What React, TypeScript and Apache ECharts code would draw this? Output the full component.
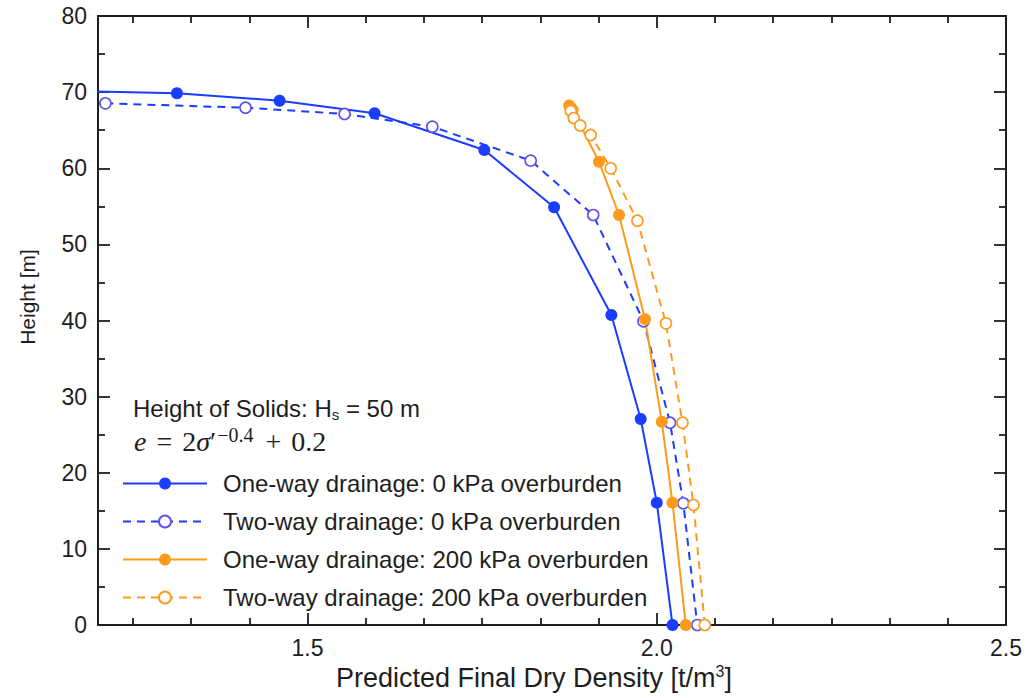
import React, { useEffect, useRef } from "react";
import * as echarts from "echarts";

// Predicted final dry density [t/m3] vs. height [m]
const oneWay0kPa: [number, number][] = [
  [1.1, 70.3], [1.313, 69.85], [1.46, 68.87], [1.596, 67.22], [1.753, 62.4],
  [1.853, 54.87], [1.935, 40.72], [1.977, 27.06], [2.0, 16.07], [2.0225, 0],
];
const twoWay0kPa: [number, number][] = [
  [1.2106, 68.53], [1.4112, 67.95], [1.553, 67.13], [1.6787, 65.46], [1.8195, 61.0],
  [1.909, 53.86], [1.981, 39.9], [2.019, 26.57], [2.038, 15.99], [2.058, 0],
];
const oneWay200kPa: [number, number][] = [
  [1.8745, 68.24], [1.8768, 67.98], [1.8797, 67.65], [1.9173, 60.86], [1.946, 53.86],
  [1.9832, 40.16], [2.0072, 26.7], [2.0225, 16.07], [2.0415, 0],
];
const twoWay200kPa: [number, number][] = [
  [1.8768, 67.52], [1.8811, 66.6], [1.8904, 65.62], [1.9054, 64.37], [1.9341, 59.99],
  [1.9723, 53.11], [2.0131, 39.63], [2.0368, 26.57], [2.0526, 15.76], [2.0688, 0],
];

const seriesNames = [
  "One-way drainage: 0 kPa overburden",
  "Two-way drainage: 0 kPa overburden",
  "One-way drainage: 200 kPa overburden",
  "Two-way drainage: 200 kPa overburden",
];

// Axis ranges and tick positions
const X_MIN = 1.2;
const X_MAX = 2.5;
const Y_MIN = 0;
const Y_MAX = 80;
const xMajorTicks = [1.5, 2.0, 2.5];
const xMinorTicks = [
  1.25, 1.3333, 1.4167, 1.5833, 1.6667, 1.75, 1.8333, 1.9167,
  2.0833, 2.1667, 2.25, 2.3333, 2.4167,
];

const MAJOR_LEN = 12;
const MINOR_LEN = 7;
const TICK_W = 1.8;

const BLUE = "#1a3dff";
const BLUE_OPEN = "#5e52e6";
const ORANGE = "#ff9b1c";
const INK = "#1e1e1e";
const SANS = "'Liberation Sans', Arial, Helvetica, sans-serif";
const SERIF = "'Liberation Serif', 'DejaVu Serif', serif";

function lineSeries(name: string, data: [number, number][], color: string, open: boolean, ring?: string) {
  return {
    name,
    type: "line",
    data,
    xAxisIndex: 0,
    yAxisIndex: 0,
    clip: true,
    symbol: "circle",
    symbolSize: open ? 11 : 12,
    lineStyle: { color, width: 2, type: open ? [8, 6] : "solid" },
    itemStyle: open
      ? { color: "#ffffff", borderColor: ring || color, borderWidth: 1.6 }
      : { color, borderColor: color, borderWidth: 0 },
    emphasis: { disabled: true },
    z: 3,
  };
}

// Horizontal axes: one carries the frame line and major ticks, an overlaid one the minor ticks
function xAxisDef(position: "top" | "bottom", ticks: number[], len: number, withLine: boolean, withLabels: boolean) {
  return {
    type: "value",
    position,
    min: X_MIN,
    max: X_MAX,
    axisLine: { show: withLine, onZero: false, lineStyle: { color: INK, width: 2 } },
    axisTick: { show: true, inside: true, length: len, customValues: ticks, lineStyle: { color: INK, width: TICK_W } },
    axisLabel: withLabels
      ? {
          show: true,
          customValues: ticks,
          formatter: (v: number) => v.toFixed(1),
          margin: 11,
          fontSize: 23,
          fontFamily: SANS,
          color: INK,
        }
      : { show: false },
    splitLine: { show: false },
  };
}

function yAxisDef(position: "left" | "right", withLabels: boolean) {
  return {
    type: "value",
    position,
    min: Y_MIN,
    max: Y_MAX,
    interval: 10,
    axisLine: { show: true, onZero: false, lineStyle: { color: INK, width: 2 } },
    axisTick: { show: true, inside: true, length: MAJOR_LEN, lineStyle: { color: INK, width: TICK_W } },
    minorTick: { show: true, splitNumber: 2, length: MINOR_LEN, lineStyle: { color: INK, width: TICK_W } },
    axisLabel: withLabels
      ? { show: true, margin: 11, fontSize: 23, fontFamily: SANS, color: INK }
      : { show: false },
    splitLine: { show: false },
    minorSplitLine: { show: false },
  };
}

const annotations = [
  {
    type: "text",
    x: 133,
    y: 408,
    style: {
      text: "{a|Height of Solids: H}{sub|s}{a| = 50 m}",
      align: "left",
      verticalAlign: "middle",
      rich: {
        a: { fontSize: 24, lineHeight: 28, fontFamily: SANS, fill: INK, color: INK, verticalAlign: "middle" },
        sub: { fontSize: 15, lineHeight: 15, fontFamily: SANS, fill: INK, color: INK, verticalAlign: "bottom" },
      },
    },
  },
  {
    type: "text",
    x: 134,
    y: 441,
    style: {
      text: "{it|e}{op|=}{n|2}{it|σ}{n|′}{sup|−0.4}{op|+}{n|0.2}",
      align: "left",
      verticalAlign: "middle",
      rich: {
        it: { fontSize: 28, lineHeight: 32, fontFamily: SERIF, fontStyle: "italic", fill: INK, color: INK, verticalAlign: "middle" },
        n: { fontSize: 28, lineHeight: 32, fontFamily: SERIF, fill: INK, color: INK, verticalAlign: "middle" },
        op: { fontSize: 28, lineHeight: 32, fontFamily: SERIF, fill: INK, color: INK, verticalAlign: "middle", padding: [0, 10, 0, 10] },
        sup: { fontSize: 20, lineHeight: 20, fontFamily: SERIF, fill: INK, color: INK, verticalAlign: "top", padding: [0, 2, 0, 1] },
      },
    },
  },
  {
    type: "text",
    x: 534,
    y: 678,
    style: {
      text: "{n|Predicted Final Dry Density [t/m}{sup|3}{n|]}",
      align: "center",
      verticalAlign: "middle",
      rich: {
        n: { fontSize: 27, lineHeight: 30, fontFamily: SANS, fill: INK, color: INK, verticalAlign: "middle" },
        sup: { fontSize: 16, lineHeight: 16, fontFamily: SANS, fill: INK, color: INK, verticalAlign: "top" },
      },
    },
  },
  {
    type: "text",
    x: 27,
    y: 297,
    rotation: Math.PI / 2,
    style: {
      text: "Height [m]",
      align: "center",
      verticalAlign: "middle",
      fontSize: 21,
      fontFamily: SANS,
      fill: INK,
    },
  },
];

export default function App() {
  const ref = useRef<HTMLDivElement>(null);

  useEffect(() => {
    if (!ref.current) return;
    const chart = echarts.init(ref.current, undefined, { renderer: "svg" });
    chart.setOption({
      animation: false,
      backgroundColor: "#ffffff",
      grid: { left: 98, right: 21, top: 16, bottom: 73, containLabel: false },
      xAxis: [
        xAxisDef("bottom", xMajorTicks, MAJOR_LEN, true, true),
        xAxisDef("bottom", xMinorTicks, MINOR_LEN, false, false),
        xAxisDef("top", xMajorTicks, MAJOR_LEN, true, false),
        xAxisDef("top", xMinorTicks, MINOR_LEN, false, false),
      ],
      yAxis: [yAxisDef("left", true), yAxisDef("right", false)],
      legend: {
        orient: "vertical",
        left: 122,
        top: 471,
        padding: 0,
        itemWidth: 84,
        itemHeight: 15,
        itemGap: 13,
        selectedMode: false,
        textStyle: { fontSize: 24, lineHeight: 25, fontFamily: SANS, color: INK, padding: [0, 0, 0, 11] },
        data: seriesNames,
      },
      series: [
        lineSeries(seriesNames[0], oneWay0kPa, BLUE, false),
        lineSeries(seriesNames[1], twoWay0kPa, BLUE, true, BLUE_OPEN),
        lineSeries(seriesNames[2], oneWay200kPa, ORANGE, false),
        lineSeries(seriesNames[3], twoWay200kPa, ORANGE, true),
      ],
      graphic: annotations,
    });
    return () => chart.dispose();
  }, []);

  return (
    <div
      ref={ref}
      style={{ position: "absolute", left: 0, top: 0, width: 1027, height: 698, background: "#fff" }}
    />
  );
}
